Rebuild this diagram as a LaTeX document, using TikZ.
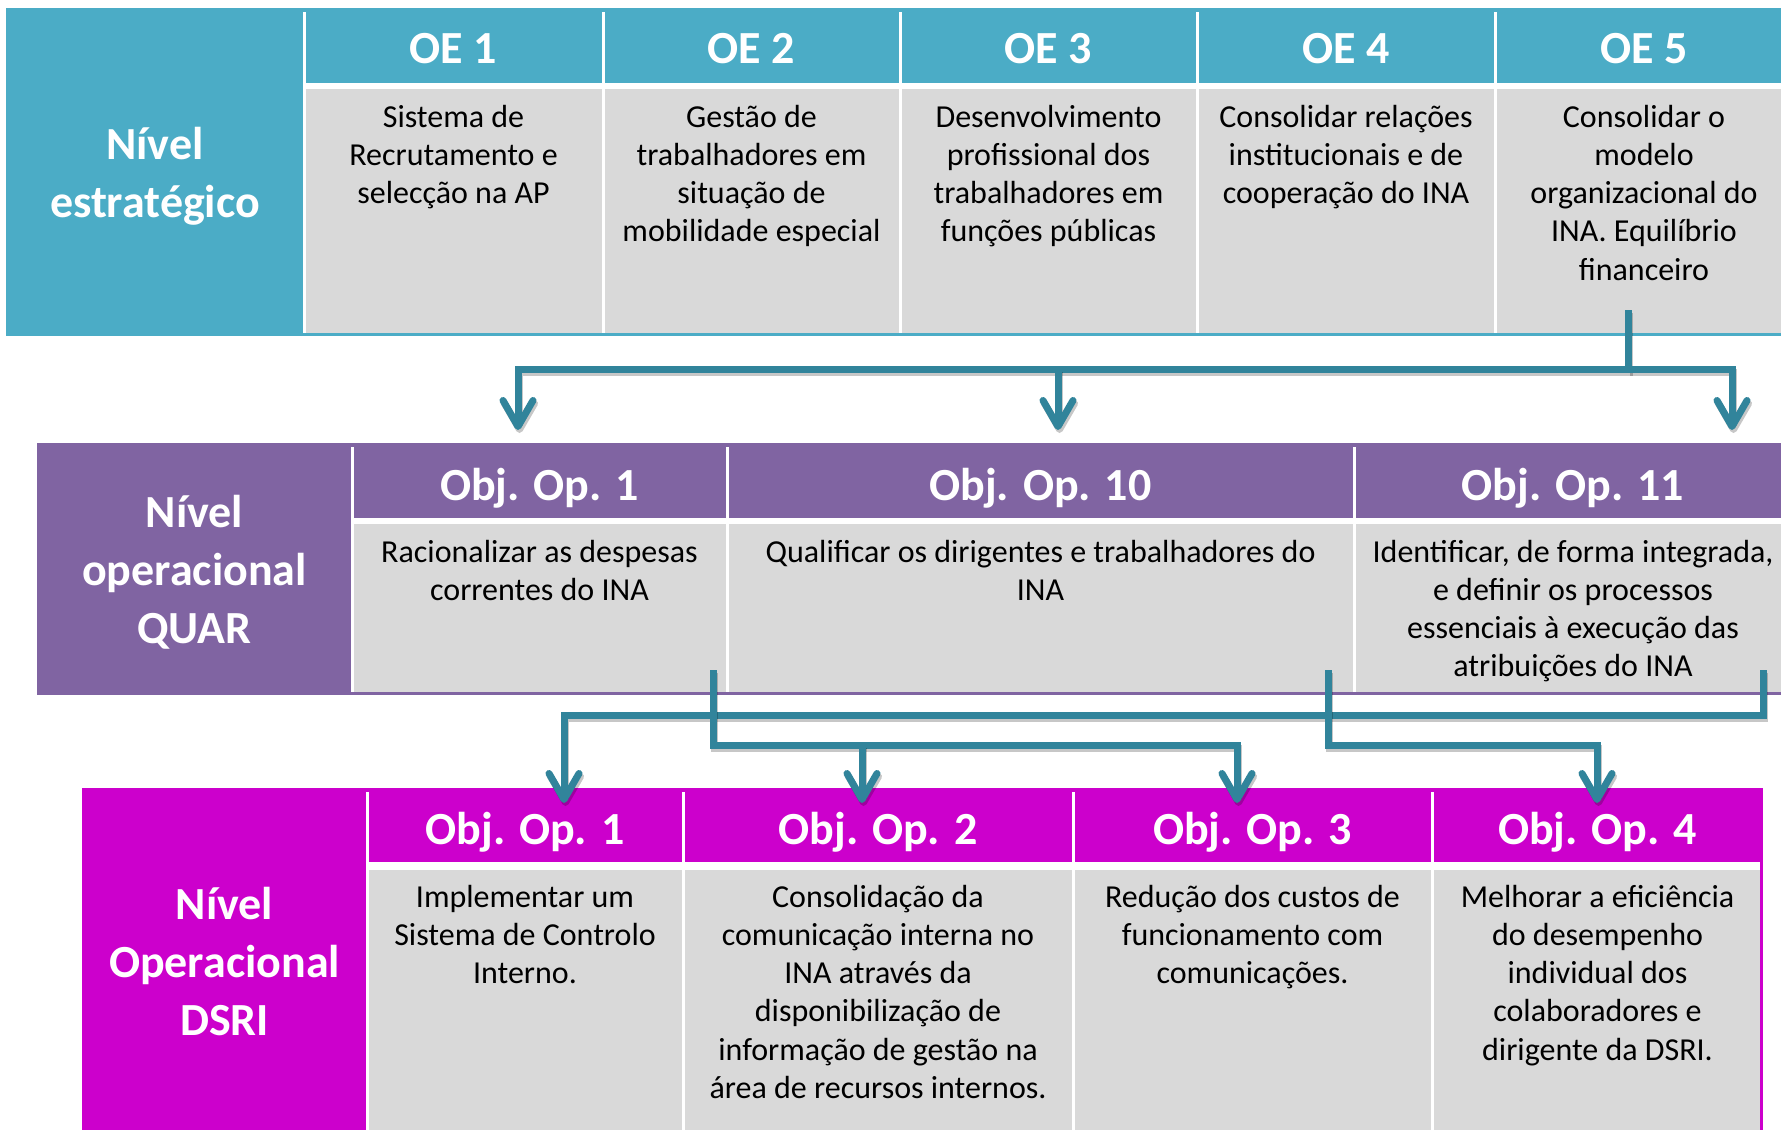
\documentclass[tikz,border=0pt]{standalone}
\usepackage{fontspec}
\setmainfont{Carlito}
\usetikzlibrary{arrows.meta,calc}
\definecolor{teal5}{HTML}{4BACC6}
\definecolor{purp}{HTML}{8064A2}
\definecolor{mag}{HTML}{CC00CC}
\definecolor{cellgray}{HTML}{D9D9D9}
\definecolor{conncol}{HTML}{31849B}
\newcommand\cellbox[6]{\node[box, fill=#6, minimum width={#4-#2}, minimum height={#5-#3}] (#1) at (#2,#3) {};}
\begin{document}
\begin{tikzpicture}[x=1pt,y=-1pt,
  box/.style={inner sep=0pt, outer sep=0pt, anchor=north west, draw=none},
  lbl/.style={text=white, font=\fontsize{46}{58}\selectfont\bfseries, align=center, anchor=base, inner sep=0pt},
  hdr/.style={text=white, font=\fontsize{46}{55}\selectfont\bfseries, anchor=base, inner sep=0pt},
  body/.style={text=black, font=\fontsize{32}{38.3}\selectfont, align=center, anchor=base, inner sep=0pt},
  link/.style={draw=conncol, line width=7pt,
     preaction={draw=black, opacity=0.22, line width=7pt, transform canvas={shift={(1.5pt,-3pt)}}}},
  arr/.style={-{Straight Barb[length=26pt,width=30pt,round]}},
]
\useasboundingbox (0,0) rectangle (1781,1130);
\fill[white] (0,0) rectangle (1781,1130);

% ---------- strategic level ----------
\cellbox{sband}{6}{8}{1781}{336}{teal5}
\cellbox{swhite}{302.5}{12}{1781}{333}{white}
\cellbox{oe1h}{305.5}{12}{601.5}{83}{teal5}
\cellbox{oe2h}{604.5}{12}{898.5}{83}{teal5}
\cellbox{oe3h}{901.5}{12}{1195.5}{83}{teal5}
\cellbox{oe4h}{1198.5}{12}{1493.5}{83}{teal5}
\cellbox{oe5h}{1496.5}{12}{1781}{83}{teal5}
\cellbox{oe1b}{305.5}{89}{601.5}{333}{cellgray}
\cellbox{oe2b}{604.5}{89}{898.5}{333}{cellgray}
\cellbox{oe3b}{901.5}{89}{1195.5}{333}{cellgray}
\cellbox{oe4b}{1198.5}{89}{1493.5}{333}{cellgray}
\cellbox{oe5b}{1496.5}{89}{1781}{333}{cellgray}

% (anchor=base of a multi-line node is the baseline of its last line)
\node[lbl] (slbl) at (155,217) {Nível\\estratégico};
\node[hdr] (oe1) at (453.5,63) {OE 1};
\node[hdr] (oe2) at (751.5,63) {OE 2};
\node[hdr] (oe3) at (1048.5,63) {OE 3};
\node[hdr] (oe4) at (1346,63) {OE 4};
\node[hdr] (oe5) at (1644,63) {OE 5};
\node[body] (oe1t) at (453.5,203.6) {Sistema de\\Recrutamento e\\selecção na AP};
\node[body] (oe2t) at (751.5,241.9) {Gestão de\\trabalhadores em\\situação de\\mobilidade especial};
\node[body] (oe3t) at (1048.5,241.9) {Desenvolvimento\\profissional dos\\trabalhadores em\\funções públicas};
\node[body] (oe4t) at (1346,203.6) {Consolidar relações\\institucionais e de\\cooperação do INA};
\node[body] (oe5t) at (1644,280.2) {Consolidar o\\modelo\\organizacional do\\INA. Equilíbrio\\financeiro};

% ---------- QUAR level ----------
\cellbox{qband}{37}{443}{1781}{695}{purp}
\cellbox{qwhite}{350.5}{447}{1781}{692}{white}
\cellbox{q1h}{353.5}{447}{725.5}{518}{purp}
\cellbox{q10h}{728.5}{447}{1352.5}{518}{purp}
\cellbox{q11h}{1355.5}{447}{1781}{518}{purp}
\cellbox{q1b}{353.5}{524}{725.5}{692}{cellgray}
\cellbox{q10b}{728.5}{524}{1352.5}{692}{cellgray}
\cellbox{q11b}{1355.5}{524}{1781}{692}{cellgray}

\node[lbl] (qlbl) at (194.5,643) {Nível\\operacional\\QUAR};
\node[hdr] (q1) at (539.5,500) {Obj. Op. 1};
\node[hdr] (q10) at (1040.5,500) {Obj. Op. 10};
\node[hdr] (q11) at (1573,500) {Obj. Op. 11};
\node[body] (q1t) at (539.5,600.3) {Racionalizar as despesas\\correntes do INA};
\node[body] (q10t) at (1040.5,600.3) {Qualificar os dirigentes e trabalhadores do\\INA};
\node[body] (q11t) at (1573,676.9) {Identificar, de forma integrada,\\e definir os processos\\essenciais à execução das\\atribuições do INA};

% ---------- DSRI level ----------
\cellbox{dband}{82}{788}{1763}{1130}{mag}
\cellbox{dwhite}{365.5}{792}{1760}{1130}{white}
\cellbox{d1h}{368.5}{792}{681.5}{862}{mag}
\cellbox{d2h}{684.5}{792}{1071.5}{862}{mag}
\cellbox{d3h}{1074.5}{792}{1430.5}{862}{mag}
\cellbox{d4h}{1433.5}{792}{1760}{862}{mag}
\cellbox{d1b}{368.5}{870}{681.5}{1130}{cellgray}
\cellbox{d2b}{684.5}{870}{1071.5}{1130}{cellgray}
\cellbox{d3b}{1074.5}{870}{1430.5}{1130}{cellgray}
\cellbox{d4b}{1433.5}{870}{1760}{1130}{cellgray}

\node[lbl] (dlbl) at (224.5,1035) {Nível\\Operacional\\DSRI};
\node[hdr] (d1) at (525,844) {Obj. Op. 1};
\node[hdr] (d2) at (878,844) {Obj. Op. 2};
\node[hdr] (d3) at (1252.5,844) {Obj. Op. 3};
\node[hdr] (d4) at (1597.5,844) {Obj. Op. 4};
\node[body] (d1t) at (525,983.6) {Implementar um\\Sistema de Controlo\\Interno.};
\node[body] (d2t) at (878,1098.5) {Consolidação da\\comunicação interna no\\INA através da\\disponibilização de\\informação de gestão na\\área de recursos internos.};
\node[body] (d3t) at (1252.5,983.6) {Redução dos custos de\\funcionamento com\\comunicações.};
\node[body] (d4t) at (1597.5,1060.2) {Melhorar a eficiência\\do desempenho\\individual dos\\colaboradores e\\dirigente da DSRI.};

% ---------- connectors: strategic -> QUAR ----------
\coordinate (s1) at (1628,310);
\coordinate (j1) at (1628,369);
\coordinate (t1a) at (518,430);
\coordinate (t1b) at (1058,430);
\coordinate (t1c) at (1732,430);
\draw[link,arr] (s1) -- (j1) -| (t1a);
\draw[link,arr] (j1) -| (t1c);
\draw[link,arr] (t1b |- j1) -- (t1b);

% ---------- connectors: QUAR -> DSRI ----------
\coordinate (s2c) at (1763,670);
\coordinate (j2c) at (1763,715);
\coordinate (t2a) at (564,803);
\draw[link,arr] (s2c) -- (j2c) -| (t2a);

\coordinate (s2a) at (713,670);
\coordinate (j2a) at (713,745);
\coordinate (t2b) at (862,803);
\coordinate (t2c) at (1237,803);
\draw[link,arr] (s2a) -- (j2a) -| (t2c);
\draw[link,arr] (t2b |- j2a) -- (t2b);

\coordinate (s2b) at (1328,670);
\coordinate (j2b) at (1328,745);
\coordinate (t2d) at (1597,803);
\draw[link,arr] (s2b) -- (j2b) -| (t2d);
\end{tikzpicture}
\end{document}
